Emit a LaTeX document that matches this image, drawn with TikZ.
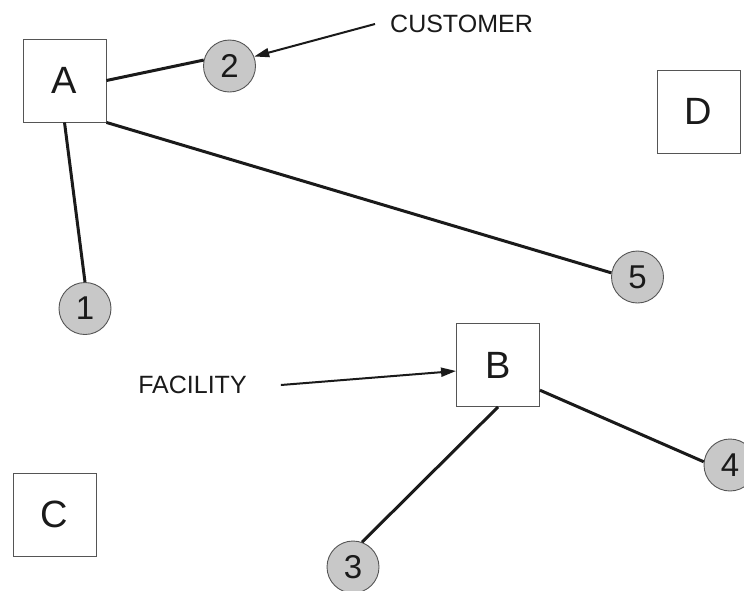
\documentclass[tikz,border=0pt]{standalone}
\usepackage{fontspec}
\setmainfont{Liberation Sans}
\usetikzlibrary{arrows.meta}
\definecolor{inkdark}{RGB}{26,26,26}
\definecolor{boxline}{RGB}{85,85,85}
\definecolor{custfill}{RGB}{200,200,200}
\tikzset{
  facbox/.style={draw=boxline, line width=0.9pt, fill=white, minimum size=83pt,
    inner sep=0pt, text=inkdark, font=\fontsize{38}{38}\selectfont},
  custnode/.style={circle, draw=boxline, line width=0.9pt, fill=custfill,
    minimum size=52pt, inner sep=0pt, text=inkdark, font=\fontsize{33}{33}\selectfont},
  link/.style={draw=inkdark, line width=3pt},
  pointer/.style={draw=inkdark, line width=2pt,
    -{Triangle[length=15pt,width=9pt]}},
  caption/.style={inner sep=0pt, text=inkdark, font=\fontsize{25}{25}\selectfont}
}
\begin{document}
\begin{tikzpicture}[x=1pt,y=-1pt]
  \useasboundingbox (0,0) rectangle (744,590);
  \clip (0,0) rectangle (744,590);

  % facilities
  \node[facbox] (A) at (64.5,80.5) {A};
  \node[facbox] (B) at (498,365) {B};
  \node[facbox] (C) at (54.5,514.5) {C};
  \node[facbox] (D) at (698.5,111.5) {D};

  % customers
  \node[custnode] (c1) at (85,308.5) {1};
  \node[custnode] (c2) at (229.5,66) {2};
  \node[custnode] (c3) at (353,567) {3};
  \node[custnode] (c4) at (730,465) {4};
  \node[custnode] (c5) at (637.5,277) {5};

  % assignments
  \draw[link] (A.south) -- (c1.north);
  \draw[link] (A.east) -- (c2.167);
  \draw[link] (A.south east) -- (c5.171);
  \draw[link] (B.south) -- (c3.70);
  \draw[link] (B.-31) -- (c4.173);

  % legend labels
  \node[caption] (cust) at (461.5,24) {CUSTOMER};
  \node[caption] (fac) at (192.5,385) {FACILITY};
  \draw[pointer] ([xshift=-15pt]cust.west) -- (c2.21);
  \draw[pointer] ([xshift=34pt]fac.east) -- ([yshift=-6pt]B.west);
\end{tikzpicture}
\end{document}
